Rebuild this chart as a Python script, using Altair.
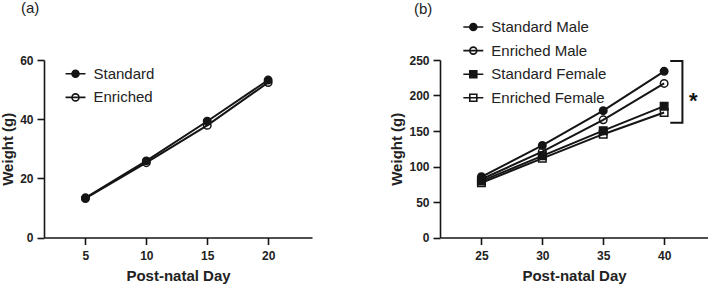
import altair as alt
import pandas as pd

# ---------------- data ----------------
days_a = [5, 10, 15, 20]
series_a = ["Standard", "Enriched"]
standard_a = [13.4, 25.9, 39.3, 53.2]
enriched_a = [13.2, 25.3, 37.9, 52.4]

days_b = [25, 30, 35, 40]
series_b = ["Standard Male", "Enriched Male", "Standard Female", "Enriched Female"]
standard_male = [85.5, 129.6, 178.6, 234.0]
enriched_male = [82.0, 121.0, 165.7, 217.0]
standard_female = [79.5, 115.0, 150.5, 185.0]
enriched_female = [77.0, 111.5, 145.5, 176.0]

yticks_a = [0, 20, 40, 60]
yticks_b = [0, 50, 100, 150, 200, 250]

bracket_x = [40.5, 41.5, 41.5, 40.5]
bracket_y = [248.5, 248.5, 161.5, 161.5]
bracket_order = [0, 1, 2, 3]
star_x = [42.4]
star_y = [200]
star_text = ["*"]

# ---------------- styling ----------------
FONT = "Liberation Sans"
INK = "#151515"
TXT = "#222222"

LINE = "M-2.85,0H2.85"
CIRC = "M-1,0A1,1 0 1 0 1,0A1,1 0 1 0 -1,0Z"
SQR = "M-1,-1H1V1H-1Z"
P_CIRC = LINE + CIRC
P_SQR = LINE + SQR


def long_df(days, series, values):
    rows = []
    for s, vals in zip(series, values):
        for d, v in zip(days, vals):
            rows.append({"series": s, "day": d, "weight": v})
    return pd.DataFrame(rows)


df_a = long_df(days_a, series_a, [standard_a, enriched_a])
df_b = long_df(days_b, series_b, [standard_male, enriched_male, standard_female, enriched_female])


def panel(df, series, days, xdom, ydom, yticks, shapes, paths, fills, legx, legy, label, labx, laby, extra=None):
    x = alt.X("day:Q", scale=alt.Scale(domain=xdom, nice=False, zero=False),
              axis=alt.Axis(values=days, title="Post-natal Day"))
    y = alt.Y("weight:Q", scale=alt.Scale(domain=ydom, nice=False, zero=False),
              axis=alt.Axis(values=yticks, title="Weight (g)"))
    base = alt.Chart(df)
    lines = base.mark_line(color=INK, strokeWidth=2).encode(x=x, y=y, detail="series:N")
    pts = base.mark_point(filled=True, size=56, stroke=INK, strokeWidth=1.5, opacity=1).encode(
        x=x, y=y,
        shape=alt.Shape("series:N", scale=alt.Scale(domain=series, range=shapes), legend=None),
        fill=alt.Fill("series:N", scale=alt.Scale(domain=series, range=fills), legend=None),
    )
    leg = alt.Legend(title=None, orient="none", legendX=legx, legendY=legy,
                     labelFont=FONT, labelFontSize=15, labelColor=TXT,
                     symbolSize=49, symbolStrokeWidth=1.6, symbolStrokeColor=INK,
                     labelOffset=10.5, rowPadding=7.6, padding=0)
    legend_layer = base.mark_point(filled=True, strokeWidth=1.6, opacity=1).encode(
        x=x, y=y,
        shape=alt.Shape("series:N", scale=alt.Scale(domain=series, range=paths), legend=leg),
        fill=alt.Fill("series:N", scale=alt.Scale(domain=series, range=fills), legend=leg),
        stroke=alt.Stroke("series:N", scale=alt.Scale(domain=series, range=[INK] * len(series)), legend=leg),
    ).transform_filter("false")
    txt = alt.Chart(pd.DataFrame({"label": [label]})).mark_text(
        align="left", baseline="middle", fontSize=15, font=FONT, color=TXT
    ).encode(x=alt.value(labx), y=alt.value(laby), text="label:N")
    layers = [lines, pts, legend_layer, txt]
    if extra is not None:
        layers += extra(x, y)
    return alt.layer(*layers).resolve_scale(
        shape="independent", fill="independent", stroke="independent"
    ).resolve_legend(shape="independent", fill="independent", stroke="independent").properties(
        width=268, height=177.5)


def bracket_layers(x, y):
    bdf = pd.DataFrame({"day": bracket_x, "weight": bracket_y, "o": bracket_order})
    br = alt.Chart(bdf).mark_line(color=INK, strokeWidth=2, strokeJoin="miter").encode(
        x=x, y=y, order="o:Q")
    sdf = pd.DataFrame({"day": star_x, "weight": star_y, "t": star_text})
    st = alt.Chart(sdf).mark_text(fontSize=22, fontWeight="bold", font=FONT, color=INK,
                                  baseline="middle", dy=5).encode(
        x=x, y=y, text="t:N")
    return [br, st]


chart_a = panel(df_a, series_a, days_a, [1.6, 23.6], [0, 60], yticks_a,
                ["circle", "circle"], [P_CIRC, P_CIRC], [INK, "transparent"],
                24, 6.3, "(a)", -23, -52.5)
chart_b = panel(df_b, series_b, days_b, [21.6, 43.6], [0, 250], yticks_b,
                ["circle", "circle", "square", "square"], [P_CIRC, P_CIRC, P_SQR, P_SQR],
                [INK, "transparent", INK, "transparent"],
                25.8, -40.5, "(b)", -26, -51, extra=bracket_layers)

chart = alt.hconcat(chart_a, chart_b, spacing=128, bounds="flush").properties(
    padding={"left": 0, "top": 0, "right": 0, "bottom": 0}
).configure_view(stroke=None).configure_axis(
    grid=False, domainColor=INK, domainWidth=1.6, tickColor=INK, tickWidth=1.6, tickSize=7,
    labelFont=FONT, labelFontSize=12, labelFontWeight="bold", labelColor=TXT,
    titleFont=FONT, titleFontSize=15, titleFontWeight="bold", titleColor=TXT,
).configure_axisX(labelPadding=6, titlePadding=7, labelFlush=False).configure_axisY(
    labelPadding=4, titlePadding=4)

chart.save("out.html", embed_options={"renderer": "svg", "actions": False})
